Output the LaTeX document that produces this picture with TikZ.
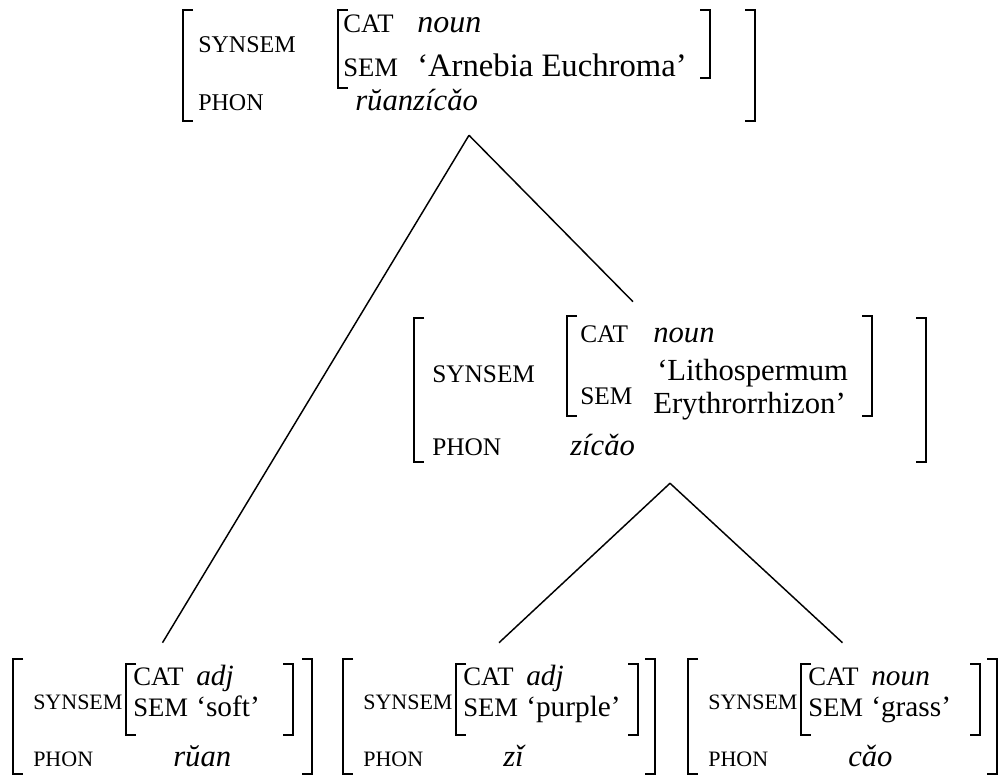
\documentclass[tikz,border=0pt]{standalone}
\usepackage{fontspec}
\setmainfont{Liberation Serif}
\usetikzlibrary{fit,calc}
\newcommand{\lbrak}[4][]{\draw[brak,#1] (#2+10,#3) -| (#2,#4) -- ++(10,0);}
\newcommand{\rbrak}[4][]{\draw[brak,#1] (#2-10,#3) -| (#2,#4) -- ++(-10,0);}
\begin{document}
\begin{tikzpicture}[x=0.75pt,y=-0.75pt,every node/.style={anchor=base west,inner sep=0pt},
feat/.style={font=\fontsize{18}{21}\selectfont},
featsm/.style={font=\fontsize{16.5}{19}\selectfont},
featmd/.style={font=\fontsize{20}{23}\selectfont},
val/.style={font=\fontsize{22}{26}\selectfont},
ival/.style={font=\fontsize{22}{26}\selectfont\itshape},
phon/.style={font=\fontsize{23}{27}\selectfont\itshape},
brak/.style={line width=1.1pt},
avm/.style={inner sep=0pt,anchor=center},
branch/.style={line width=1.1pt}]
\path[use as bounding box,fill=white] (0,0) rectangle (1008,777);
% mother: ruanzicao
\node[feat] (t-syn) at (198,53) {SYNSEM};
\node[featmd] (t-cat) at (343,33) {CAT};
\node[ival,font=\fontsize{24}{28}\selectfont\itshape] (t-catv) at (417,33) {noun};
\node[featmd] (t-sem) at (343,77) {SEM};
\node[val,font=\fontsize{24.5}{28}\selectfont] (t-semv) at (417,77) {‘Arnebia Euchroma’};
\node[feat] (t-phon) at (198,111) {PHON};
\node[phon] (t-phonv) at (355,111) {rŭanzícǎo};
\lbrak{183}{10}{121}\lbrak{338}{10}{88}\rbrak{710}{10}{78}\rbrak{755}{10}{121}
\node[avm,fit={(183,10)(755,135)}] (avmtop) {};
% zicao
\node[featmd,font=\fontsize{19}{22}\selectfont] (m-syn) at (432,383) {SYNSEM};
\node[featmd,font=\fontsize{19}{22}\selectfont] (m-cat) at (580,343) {CAT};
\node[ival,font=\fontsize{23}{27}\selectfont\itshape] (m-catv) at (653,343) {noun};
\node[featmd,font=\fontsize{19}{22}\selectfont] (m-sem) at (580,405) {SEM};
\node[val,font=\fontsize{23}{27}\selectfont] (m-semv) at (657,381) {‘Lithospermum};
\node[val,font=\fontsize{23}{27}\selectfont] (m-semw) at (653,414) {Erythrorrhizon’};
\node[featmd,font=\fontsize{19}{22}\selectfont] (m-phon) at (432,456) {PHON};
\node[phon] (m-phonv) at (570,456) {zícǎo};
\lbrak[line width=1.8pt]{414}{318}{462}\lbrak{567}{316}{416}\rbrak{872}{316}{416}\rbrak[line width=1.8pt]{926}{318}{462}
\node[avm,fit={(414,302)(926,483)}] (avmmid) {};
% leaves
\foreach \l/\ir/\orr/\cv/\sv/\pv/\nm in {13/293/312/adj/‘soft’/rŭan/leafa,343/638/655/adj/‘purple’/zǐ/leafb,688/980/997/noun/‘grass’/cǎo/leafc}{
\node[featsm] (\nm-syn) at (\l+20,709) {SYNSEM};
\node[featmd] (\nm-cat) at (\l+120,685) {CAT};
\node[ival] (\nm-catv) at (\l+183,685) {\cv};
\node[featmd] (\nm-sem) at (\l+120,716) {SEM};
\node[val] (\nm-semv) at (\l+183,716) {\sv};
\node[featsm] (\nm-phon) at (\l+20,766) {PHON};
\node[phon] (\nm-phonv) at (\l+160,766) {\pv};
\lbrak{\l}{659}{774}\lbrak{\l+113}{664}{735}\rbrak{\ir}{664}{735}\rbrak{\orr}{659}{774}
\node[avm,fit={(\l,643)(\orr,774)}] (\nm) {};
}
\draw[branch] (avmtop.south) -- (leafa.north);
\draw[branch] (avmtop.south) -- ($(avmmid.north)+(-37,0)$);
\draw[branch] (avmmid.south) -- (leafb.north);
\draw[branch] (avmmid.south) -- (leafc.north);
\end{tikzpicture}
\end{document}
